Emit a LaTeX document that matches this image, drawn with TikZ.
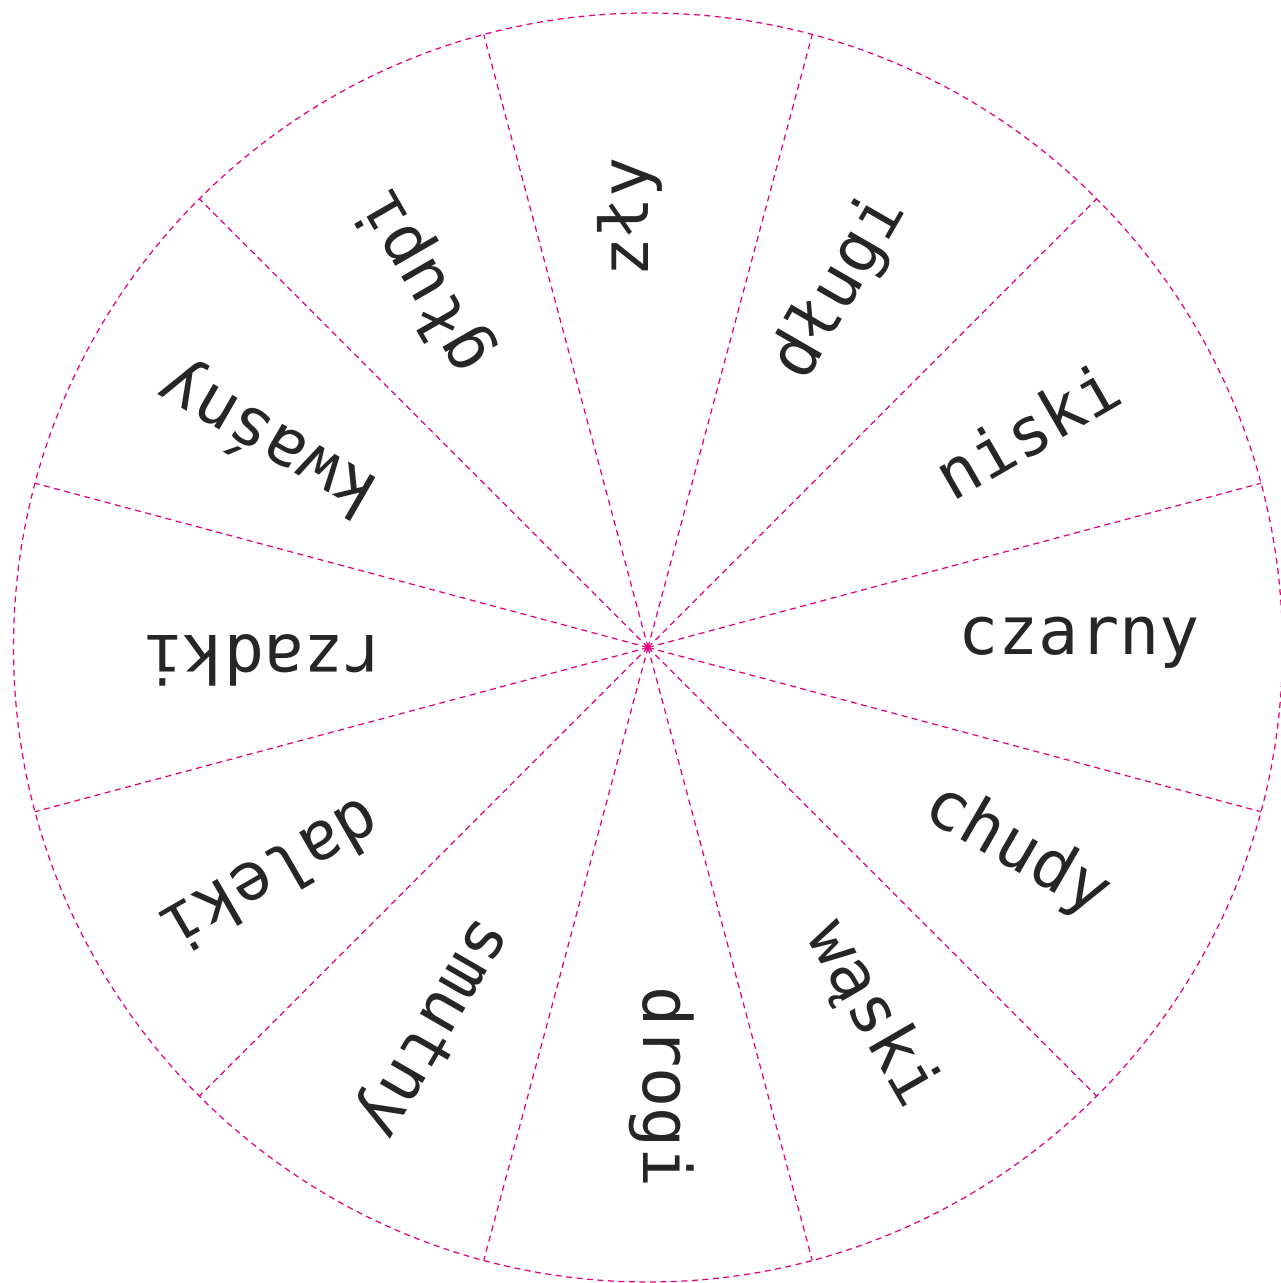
\documentclass[tikz,border=0pt]{standalone}
\usepackage{fontspec}
\setmonofont{DejaVu Sans Mono}
\usetikzlibrary{positioning,calc}
\definecolor{wheelpink}{HTML}{E6007E}

\begin{document}
\begin{tikzpicture}[font=\ttfamily\fontsize{19}{21}\selectfont,
   cut/.style={draw=wheelpink, line width=0.35pt, dash pattern=on 0.06cm off 0.045cm},
   word/.style={anchor=center, inner sep=0pt, text=black!85}]
  \useasboundingbox (-6.48,-6.355) rectangle (6.32,6.475);
  \coordinate (o) at (0,0);
  \draw[cut] (o) circle (6.345);
  \foreach \a in {15,45,...,345}
    \coordinate (rim\a) at (\a:6.345);
  \foreach \a in {15,45,...,345}
    \draw[cut] (o) -- (rim\a);
  % words, one per sector
  \node[word, rotate=0] (w0) at (4.31,0.05) {czarny};
  \node[word, rotate=30] (w30) at (3.79,2.17) {niski};
  \node[word, rotate=60] (w60) at (1.92,3.60) {długi};
  \node[word, rotate=90] (w90) at (-0.18,4.30) {zły};
  \node[word, rotate=120] (w120) at (-2.23,3.67) {głupi};
  \node[word, rotate=150] (w150) at (-3.80,2.09) {kwaśny};
  \node[word, rotate=180] (w180) at (-3.84,-0.13) {rzadki};
  \node[word, rotate=210] (w210) at (-3.76,-2.30) {daleki};
  \node[word, rotate=240] (w240) at (-2.16,-3.80) {smutny};
  \node[word, rotate=270] (w270) at (0.14,-4.40) {drogi};
  \node[word, rotate=300] (w300) at (2.24,-3.67) {wąski};
  \node[word, rotate=330] (w330) at (3.69,-2.03) {chudy};
\end{tikzpicture}
\end{document}
